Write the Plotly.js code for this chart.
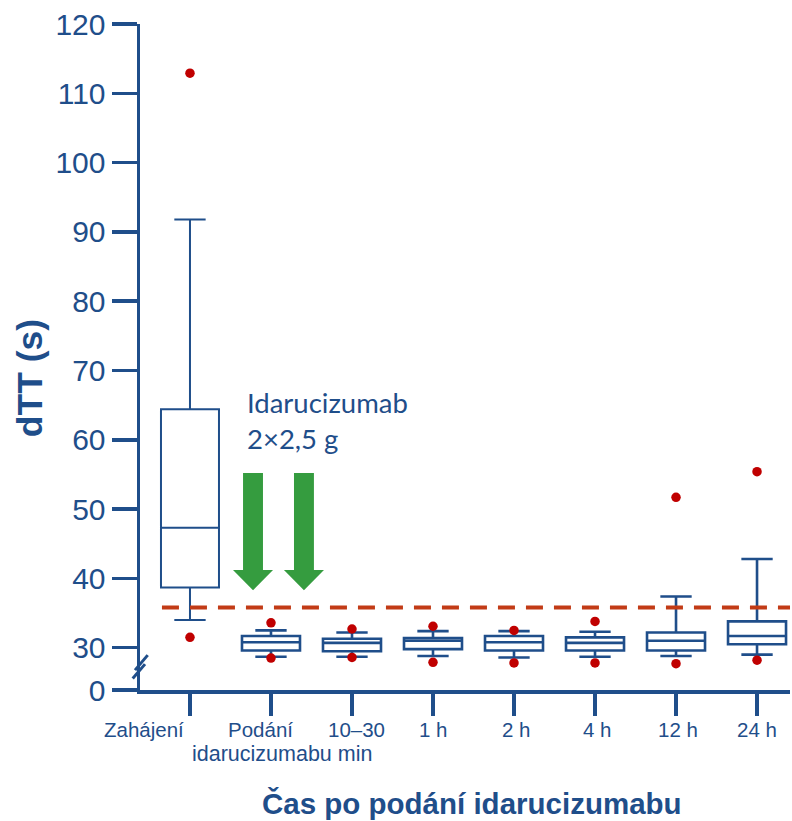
<!DOCTYPE html>
<html>
<head>
<meta charset="utf-8">
<script src="https://cdn.plot.ly/plotly-3.0.1.min.js"></script>
<style>html,body{margin:0;padding:0;background:#fff;}#chart{width:792px;height:821px;}</style>
</head>
<body>
<div id="chart"></div>
<script>
// ---- data ----
const categories = ['Zahájení', 'Podání idarucizumabu', '10–30 min', '1 h', '2 h', '4 h', '12 h', '24 h'];
const tickLabels = ['Zahájení', 'Podání', '10–30', '1 h', '2 h', '4 h', '12 h', '24 h'];
const secondLineLabel = 'idarucizumabu min';
const positions = [0, 1, 2, 3, 4, 5, 6, 7];
const q1Values      = [38.7, 29.6, 29.5, 29.8, 29.6, 29.6, 29.6, 30.5];
const medianValues  = [47.3, 30.8, 30.7, 31.0, 30.8, 30.7, 31.0, 31.7];
const q3Values      = [64.4, 31.7, 31.3, 31.4, 31.7, 31.5, 32.2, 33.8];
const lowerWhisker  = [34.0, 28.7, 28.7, 28.8, 28.6, 28.7, 28.8, 29.0];
const upperWhisker  = [91.8, 32.5, 32.2, 32.4, 32.4, 32.3, 37.4, 42.8];
const outlierHigh   = [112.9, 33.6, 32.7, 33.1, 32.5, 33.8, 51.7, 55.4];
const outlierLow    = [31.5, 28.5, 28.6, 27.9, 27.8, 27.8, 27.7, 28.2];
const referenceLine = 35.8;
const yTickVals = [23.9, 30, 40, 50, 60, 70, 80, 90, 100, 110, 120];
const yTickText = ['0', '30', '40', '50', '60', '70', '80', '90', '100', '110', '120'];

// ---- styles ----
const BLUE = '#1f4e8a';
const RED = '#c00000';
const DASH = '#c23b16';
const GREEN = '#359c3f';
const FONT = 'Liberation Sans, Arial, sans-serif';

const traces = [
  {
    type: 'box',
    x: positions.slice(0, 1),
    q1: q1Values.slice(0, 1), median: medianValues.slice(0, 1), q3: q3Values.slice(0, 1),
    lowerfence: lowerWhisker.slice(0, 1), upperfence: upperWhisker.slice(0, 1),
    boxpoints: false, width: 0.716, whiskerwidth: 0.54,
    line: {color: BLUE, width: 2}, fillcolor: 'rgba(255,255,255,0)',
    hoverinfo: 'skip', showlegend: false
  },
  {
    type: 'box',
    x: positions.slice(1),
    q1: q1Values.slice(1), median: medianValues.slice(1), q3: q3Values.slice(1),
    lowerfence: lowerWhisker.slice(1), upperfence: upperWhisker.slice(1),
    boxpoints: false, width: 0.716, whiskerwidth: 0.54,
    line: {color: BLUE, width: 2.6}, fillcolor: 'rgba(255,255,255,0)',
    hoverinfo: 'skip', showlegend: false
  },
  {
    type: 'scatter', mode: 'markers',
    x: positions.concat(positions),
    y: outlierHigh.concat(outlierLow),
    marker: {color: RED, size: 9.5},
    hoverinfo: 'skip', showlegend: false
  }
];

function arrowPath(cx) {
  const sw = 0.123, hw = 0.247, top = 55.2, base = 41.2, tip = 38.3;
  return 'M' + (cx - sw) + ',' + top + ' L' + (cx + sw) + ',' + top + ' L' + (cx + sw) + ',' + base +
         ' L' + (cx + hw) + ',' + base + ' L' + cx + ',' + tip + ' L' + (cx - hw) + ',' + base +
         ' L' + (cx - sw) + ',' + base + ' Z';
}

const shapes = [
  {type: 'line', xref: 'x', yref: 'y', x0: -0.346, x1: 7.45, y0: referenceLine, y1: referenceLine,
   line: {color: DASH, width: 4, dash: '17px,11px'}, layer: 'above'},
  {type: 'path', xref: 'x', yref: 'y', path: arrowPath(0.778), fillcolor: GREEN, line: {width: 0}},
  {type: 'path', xref: 'x', yref: 'y', path: arrowPath(1.407), fillcolor: GREEN, line: {width: 0}},
  // axis break marks
  {type: 'line', xref: 'paper', yref: 'y', xsizemode: 'pixel', ysizemode: 'pixel', xanchor: 0, yanchor: 27.2,
   x0: -5, y0: -3, x1: 7.7, y1: 12, line: {color: BLUE, width: 3}},
  {type: 'line', xref: 'paper', yref: 'y', xsizemode: 'pixel', ysizemode: 'pixel', xanchor: 0, yanchor: 27.2,
   x0: -7.3, y0: -11.3, x1: 5, y1: 3, line: {color: BLUE, width: 3}}
];

const labelShifts = [-46, -10, 4, 0, 2, 2, 2, 0];
const annotations = tickLabels.map((t, i) => ({
  text: t, x: positions[i], xref: 'x', y: -0.0586, yref: 'paper',
  xanchor: 'center', yanchor: 'middle', xshift: labelShifts[i], showarrow: false,
  font: {family: FONT, size: 20.5, color: BLUE}
}));
annotations.push({
  text: secondLineLabel, x: 1.136, xref: 'x', y: -0.0955, yref: 'paper',
  xanchor: 'center', yanchor: 'middle', showarrow: false,
  font: {family: FONT, size: 21.5, color: BLUE}
});
annotations.push({
  text: 'Čas po podání idarucizumabu', x: 0.511, xref: 'paper', y: -0.1697, yref: 'paper',
  xanchor: 'center', yanchor: 'middle', showarrow: false,
  font: {family: FONT, size: 29.5, color: BLUE, weight: 'bold'}
});
annotations.push({
  text: '<b>dTT (s)</b>', x: -0.169, xref: 'paper', y: 0.4685, yref: 'paper',
  xanchor: 'center', yanchor: 'middle', showarrow: false, textangle: -90,
  font: {family: FONT, size: 35.5, color: BLUE}
});
annotations.push({
  text: 'Idarucizumab<br>2×2,5 g', x: 0.685, xref: 'x', y: 68.0, yref: 'y',
  xanchor: 'left', yanchor: 'top', align: 'left', showarrow: false,
  font: {family: 'Lato, Open Sans, sans-serif', size: 27.5, color: BLUE}
});

const layout = {
  width: 792, height: 821,
  margin: {l: 140, r: 2, t: 24, b: 131, pad: 0},
  paper_bgcolor: '#ffffff', plot_bgcolor: '#ffffff',
  showlegend: false,
  xaxis: {
    range: [-0.617, 7.407], tickvals: positions, ticktext: categories, showticklabels: false,
    ticks: 'outside', ticklen: 22, tickwidth: 3.5, tickcolor: BLUE,
    showline: true, linecolor: BLUE, linewidth: 3.5, showgrid: false, zeroline: false, fixedrange: true
  },
  yaxis: {
    range: [23.9, 120], tickvals: yTickVals, ticktext: yTickText,
    ticks: 'outside', ticklen: 25, tickwidth: 3.5, tickcolor: BLUE,
    ticklabelstandoff: 0,
    tickfont: {family: FONT, size: 30, color: BLUE},
    showline: true, linecolor: BLUE, linewidth: 3.5, showgrid: false, zeroline: false, fixedrange: true
  },
  shapes: shapes,
  annotations: annotations
};

Plotly.newPlot('chart', traces, layout, {displayModeBar: false, staticPlot: true});
</script>
</body>
</html>
